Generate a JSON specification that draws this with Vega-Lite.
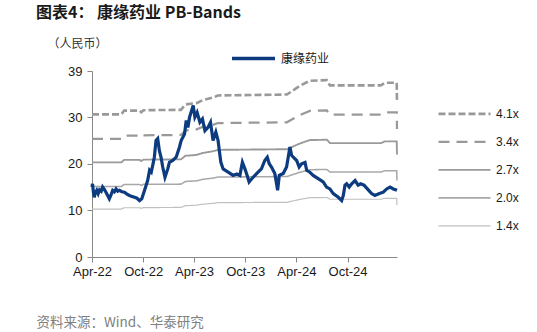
{
  "$schema": "https://vega.github.io/schema/vega-lite/v6.json",
  "width": 305,
  "height": 186,
  "autosize": {"type": "none"},
  "padding": {"left": 92, "top": 71, "right": 140, "bottom": 75},
  "background": "white",
  "title": {"text": "图表4： 康缘药业 PB-Bands", "anchor": "start", "frame": "group", "dx": -56, "offset": 14, "font": "Noto Sans CJK SC", "fontSize": 16, "fontWeight": "bold", "color": "#1a1a1a"},
  "config": {"view": {"stroke": null}, "font": "Liberation Sans"},
  "datasets": {
    "bands": [
      {"d": "2022-04-01", "b41": 30.59, "b34": 25.36, "b27": 20.29, "b20": 15.14, "b14": 10.29},
      {"d": "2022-07-15", "b41": 30.59, "b34": 25.36, "b27": 20.29, "b20": 15.14, "b14": 10.29},
      {"d": "2022-07-25", "b41": 31.41, "b34": 26.04, "b27": 20.84, "b20": 15.55, "b14": 10.57},
      {"d": "2022-09-18", "b41": 31.41, "b34": 26.04, "b27": 20.84, "b20": 15.55, "b14": 10.57},
      {"d": "2022-09-24", "b41": 31.04, "b34": 25.74, "b27": 20.59, "b20": 15.37, "b14": 10.45},
      {"d": "2022-10-02", "b41": 31.49, "b34": 26.11, "b27": 20.89, "b20": 15.59, "b14": 10.60},
      {"d": "2023-02-13", "b41": 31.57, "b34": 26.18, "b27": 20.94, "b20": 15.63, "b14": 10.63},
      {"d": "2023-03-01", "b41": 32.72, "b34": 27.13, "b27": 21.71, "b20": 16.20, "b14": 11.01},
      {"d": "2023-04-10", "b41": 33.01, "b34": 27.37, "b27": 21.90, "b20": 16.34, "b14": 11.11},
      {"d": "2023-05-01", "b41": 33.62, "b34": 27.88, "b27": 22.30, "b20": 16.65, "b14": 11.32},
      {"d": "2023-06-10", "b41": 34.24, "b34": 28.39, "b27": 22.71, "b20": 16.95, "b14": 11.52},
      {"d": "2023-06-25", "b41": 34.65, "b34": 28.73, "b27": 22.98, "b20": 17.15, "b14": 11.66},
      {"d": "2024-02-27", "b41": 34.85, "b34": 28.90, "b27": 23.12, "b20": 17.26, "b14": 11.73},
      {"d": "2024-04-13", "b41": 36.70, "b34": 30.43, "b27": 24.34, "b20": 18.17, "b14": 12.35},
      {"d": "2024-05-19", "b41": 37.80, "b34": 31.35, "b27": 25.08, "b20": 18.72, "b14": 12.72},
      {"d": "2024-07-19", "b41": 37.93, "b34": 31.45, "b27": 25.16, "b20": 18.78, "b14": 12.77},
      {"d": "2024-07-30", "b41": 36.82, "b34": 30.53, "b27": 24.43, "b20": 18.23, "b14": 12.39},
      {"d": "2025-01-28", "b41": 36.82, "b34": 30.53, "b27": 24.43, "b20": 18.23, "b14": 12.39},
      {"d": "2025-02-12", "b41": 37.39, "b34": 31.01, "b27": 24.81, "b20": 18.51, "b14": 12.59},
      {"d": "2025-03-26", "b41": 37.39, "b34": 31.01, "b27": 24.81, "b20": 18.51, "b14": 12.59},
      {"d": "2025-03-27", "b41": 33.13, "b34": 27.47, "b27": 21.98, "b20": 16.40, "b14": 11.15}
    ],
    "price": [
      {"d": "2022-04-01", "v": 15.0}, {"d": "2022-04-03", "v": 15.7}, {"d": "2022-04-06", "v": 13.9},
      {"d": "2022-04-09", "v": 12.8}, {"d": "2022-04-13", "v": 13.8}, {"d": "2022-04-18", "v": 14.3},
      {"d": "2022-04-23", "v": 13.6}, {"d": "2022-04-28", "v": 14.4}, {"d": "2022-05-04", "v": 14.1},
      {"d": "2022-05-09", "v": 15.0}, {"d": "2022-05-15", "v": 14.5}, {"d": "2022-05-21", "v": 13.9},
      {"d": "2022-05-27", "v": 13.2}, {"d": "2022-06-02", "v": 12.5}, {"d": "2022-06-08", "v": 13.3},
      {"d": "2022-06-14", "v": 14.3}, {"d": "2022-06-20", "v": 14.0}, {"d": "2022-06-26", "v": 14.6},
      {"d": "2022-07-02", "v": 14.1}, {"d": "2022-07-08", "v": 14.3}, {"d": "2022-07-17", "v": 14.0},
      {"d": "2022-07-26", "v": 13.9}, {"d": "2022-08-04", "v": 13.5}, {"d": "2022-08-13", "v": 13.2},
      {"d": "2022-08-22", "v": 13.0}, {"d": "2022-08-31", "v": 12.8}, {"d": "2022-09-09", "v": 12.6},
      {"d": "2022-09-18", "v": 12.1}, {"d": "2022-09-26", "v": 12.5}, {"d": "2022-10-06", "v": 14.3},
      {"d": "2022-10-17", "v": 16.4}, {"d": "2022-10-24", "v": 18.6}, {"d": "2022-10-30", "v": 18.2},
      {"d": "2022-11-04", "v": 19.6}, {"d": "2022-11-10", "v": 21.4}, {"d": "2022-11-16", "v": 25.0},
      {"d": "2022-11-22", "v": 25.4}, {"d": "2022-11-28", "v": 22.8}, {"d": "2022-12-04", "v": 21.4},
      {"d": "2022-12-10", "v": 19.3}, {"d": "2022-12-18", "v": 17.1}, {"d": "2022-12-28", "v": 18.9},
      {"d": "2023-01-03", "v": 20.3}, {"d": "2023-01-15", "v": 20.7}, {"d": "2023-01-27", "v": 21.4},
      {"d": "2023-02-08", "v": 23.6}, {"d": "2023-02-14", "v": 25.0}, {"d": "2023-02-26", "v": 26.4},
      {"d": "2023-03-04", "v": 29.3}, {"d": "2023-03-10", "v": 27.8}, {"d": "2023-03-16", "v": 30.0},
      {"d": "2023-03-29", "v": 32.5}, {"d": "2023-04-04", "v": 30.0}, {"d": "2023-04-12", "v": 31.0},
      {"d": "2023-04-22", "v": 28.9}, {"d": "2023-05-01", "v": 29.6}, {"d": "2023-05-10", "v": 27.1},
      {"d": "2023-05-21", "v": 27.8}, {"d": "2023-05-30", "v": 28.9}, {"d": "2023-06-08", "v": 25.0},
      {"d": "2023-06-18", "v": 26.8}, {"d": "2023-06-26", "v": 25.0}, {"d": "2023-07-02", "v": 22.1},
      {"d": "2023-07-06", "v": 20.3}, {"d": "2023-07-14", "v": 18.9}, {"d": "2023-08-01", "v": 18.2},
      {"d": "2023-08-19", "v": 17.5}, {"d": "2023-09-01", "v": 17.8}, {"d": "2023-09-12", "v": 17.5},
      {"d": "2023-09-21", "v": 20.3}, {"d": "2023-09-30", "v": 18.9}, {"d": "2023-10-08", "v": 17.5},
      {"d": "2023-10-15", "v": 16.1}, {"d": "2023-10-29", "v": 17.1}, {"d": "2023-11-16", "v": 18.2},
      {"d": "2023-11-28", "v": 18.9}, {"d": "2023-12-10", "v": 20.7}, {"d": "2023-12-19", "v": 21.4},
      {"d": "2023-12-26", "v": 20.0}, {"d": "2024-01-03", "v": 19.3}, {"d": "2024-01-15", "v": 17.9},
      {"d": "2024-01-25", "v": 14.3}, {"d": "2024-01-31", "v": 17.5}, {"d": "2024-02-14", "v": 17.9},
      {"d": "2024-02-26", "v": 19.3}, {"d": "2024-03-09", "v": 23.6}, {"d": "2024-03-15", "v": 21.8},
      {"d": "2024-03-21", "v": 21.4}, {"d": "2024-04-02", "v": 20.7}, {"d": "2024-04-11", "v": 19.3},
      {"d": "2024-04-20", "v": 20.0}, {"d": "2024-05-02", "v": 20.3}, {"d": "2024-05-08", "v": 18.6},
      {"d": "2024-05-19", "v": 18.2}, {"d": "2024-05-31", "v": 17.5}, {"d": "2024-06-18", "v": 16.8},
      {"d": "2024-07-06", "v": 16.1}, {"d": "2024-07-18", "v": 15.0}, {"d": "2024-07-30", "v": 14.6},
      {"d": "2024-08-11", "v": 13.6}, {"d": "2024-08-29", "v": 12.8}, {"d": "2024-09-10", "v": 12.1},
      {"d": "2024-09-16", "v": 13.2}, {"d": "2024-09-22", "v": 15.4}, {"d": "2024-09-28", "v": 15.7},
      {"d": "2024-10-07", "v": 15.0}, {"d": "2024-10-16", "v": 15.7}, {"d": "2024-10-28", "v": 16.4},
      {"d": "2024-11-08", "v": 15.4}, {"d": "2024-11-17", "v": 15.7}, {"d": "2024-11-29", "v": 15.4},
      {"d": "2024-12-11", "v": 14.6}, {"d": "2024-12-26", "v": 13.6}, {"d": "2025-01-07", "v": 13.2},
      {"d": "2025-01-23", "v": 13.6}, {"d": "2025-02-06", "v": 13.9}, {"d": "2025-02-18", "v": 14.6},
      {"d": "2025-03-02", "v": 15.0}, {"d": "2025-03-14", "v": 14.6}, {"d": "2025-03-27", "v": 14.3}
    ]
  },
  "encoding": {
    "x": {
      "field": "d", "type": "temporal",
      "scale": {"type": "utc", "domain": [{"year": 2022, "month": 4, "date": 1, "utc": true}, {"year": 2025, "month": 3, "date": 27, "utc": true}]},
      "axis": {
        "values": [
          {"year": 2022, "month": 4, "date": 1, "utc": true}, {"year": 2022, "month": 10, "date": 1, "utc": true},
          {"year": 2023, "month": 4, "date": 1, "utc": true}, {"year": 2023, "month": 10, "date": 1, "utc": true},
          {"year": 2024, "month": 4, "date": 1, "utc": true}, {"year": 2024, "month": 10, "date": 1, "utc": true}
        ],
        "labelExpr": "utcFormat(datum.value, '%b-%y')",
        "labelOverlap": false, "labelBound": false, "labelFlush": false,
        "grid": false, "domainColor": "#888888", "tickColor": "#888888", "tickSize": 5,
        "labelFont": "Liberation Sans", "labelFontSize": 13, "labelColor": "#1a1a1a", "labelPadding": 3,
        "title": "资料来源：Wind、华泰研究", "titleX": -56, "titleY": 65, "titleAlign": "left", "titleBaseline": "middle",
        "titleFont": "Noto Sans CJK SC", "titleFontSize": 13.5, "titleFontWeight": "normal", "titleColor": "#808080"
      }
    },
    "y": {
      "field": "v", "type": "quantitative",
      "scale": {"domain": [0, 39.9], "nice": false, "zero": true},
      "axis": {
        "values": [0, 10, 20, 30, 39.9],
        "labelExpr": "datum.value > 39 ? '39' : datum.label",
        "grid": false, "domainColor": "#888888", "tickColor": "#888888", "tickSize": 5,
        "labelFont": "Liberation Sans", "labelFontSize": 13, "labelColor": "#1a1a1a", "labelPadding": 5,
        "title": "（人民币）", "titleAngle": 0, "titleX": -45, "titleY": -28, "titleAlign": "left", "titleBaseline": "middle",
        "titleFont": "Noto Sans CJK SC", "titleFontSize": 12, "titleFontWeight": "normal", "titleColor": "#333333"
      }
    }
  },
  "layer": [
    {
      "data": {"name": "bands"},
      "transform": [{"fold": ["b41", "b34", "b27", "b20", "b14"], "as": ["key", "v"]}],
      "mark": {"type": "line", "interpolate": "linear"},
      "encoding": {
        "stroke": {
          "field": "key", "type": "nominal",
          "scale": {"domain": ["b41", "b34", "b27", "b20", "b14"], "range": ["#999999", "#999999", "#9a9a9a", "#a8a8a8", "#c0c0c0"]},
          "legend": {"orient": "none", "legendX": 345, "legendY": 29, "title": null, "symbolType": "stroke", "symbolSize": 2704,
            "labelExpr": "{'b41':'4.1x','b34':'3.4x','b27':'2.7x','b20':'2.0x','b14':'1.4x'}[datum.label]",
            "labelFont": "Liberation Sans", "labelFontSize": 12, "labelColor": "#1a1a1a", "rowPadding": 0, "clipHeight": 27.7}
        },
        "strokeDash": {
          "field": "key", "type": "nominal",
          "scale": {"domain": ["b41", "b34", "b27", "b20", "b14"], "range": [[7, 3], [11, 7], [1, 0], [1, 0], [1, 0]]},
          "legend": {"orient": "none", "legendX": 345, "legendY": 29, "title": null, "symbolType": "stroke", "symbolSize": 2704,
            "labelExpr": "{'b41':'4.1x','b34':'3.4x','b27':'2.7x','b20':'2.0x','b14':'1.4x'}[datum.label]",
            "labelFont": "Liberation Sans", "labelFontSize": 12, "labelColor": "#1a1a1a", "rowPadding": 0, "clipHeight": 27.7}
        },
        "strokeWidth": {
          "field": "key", "type": "nominal",
          "scale": {"type": "point", "domain": ["b41", "b34", "b27", "b20", "b14"], "range": [2.6, 1.2]},
          "legend": {"orient": "none", "legendX": 345, "legendY": 29, "title": null, "symbolType": "stroke", "symbolSize": 2704,
            "labelExpr": "{'b41':'4.1x','b34':'3.4x','b27':'2.7x','b20':'2.0x','b14':'1.4x'}[datum.label]",
            "labelFont": "Liberation Sans", "labelFontSize": 12, "labelColor": "#1a1a1a", "rowPadding": 0, "clipHeight": 27.7}
        }
      }
    },
    {
      "data": {"name": "price"},
      "mark": {"type": "line", "strokeWidth": 3.2, "interpolate": "linear"},
      "encoding": {
        "color": {
          "datum": "康缘药业", "type": "nominal",
          "scale": {"range": ["#0d3b7f"]},
          "legend": {"orient": "none", "legendX": 138, "legendY": -36, "title": null, "symbolType": "stroke", "symbolSize": 1849, "symbolStrokeWidth": 3.5,
            "labelFont": "Noto Sans CJK SC", "labelFontSize": 12, "labelColor": "#1a1a1a"}
        }
      }
    }
  ]
}
